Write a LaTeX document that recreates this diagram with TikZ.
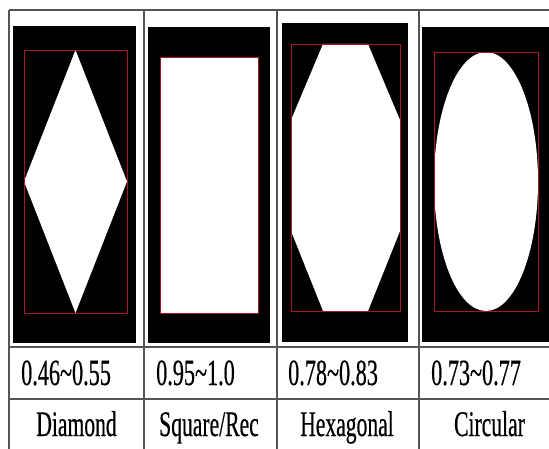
\documentclass[tikz,border=0pt]{standalone}
\usepackage{fontspec}
\newfontfamily\cellfont[FakeStretch=0.6, FakeBold=0.4]{Liberation Serif}
\usetikzlibrary{positioning}
\definecolor{gridgray}{RGB}{85,85,85}
\definecolor{boxred}{RGB}{160,25,35}
\tikzset{
  gridline/.style={draw=gridgray, line width=1.6pt},
  shot/.style={fill=black},
  blob/.style={fill=white},
  bbox/.style={draw=boxred, line width=0.9pt},
  ratiotext/.style={font=\cellfont\fontsize{37}{37}\selectfont,
    inner sep=0pt, anchor=base west},
  nametext/.style={font=\cellfont\fontsize{36}{36}\selectfont,
    inner sep=0pt, anchor=base},
}
\begin{document}
\begin{tikzpicture}[x=1pt, y=-1pt]
  \useasboundingbox (0,0) rectangle (549,449);
  \fill[white] (0,0) rectangle (549,449);

  %% ── Diamond ─────────────────────────────────────────────────
  \fill[shot] (13,26) rectangle (136,343);
  \fill[blob] (75.5,50) -- (127,181.5) -- (75.5,313) -- (24,181.5) -- cycle;
  \draw[bbox] (24,50) rectangle (127,313);

  %% ── Square / rectangle ──────────────────────────────────────
  \fill[shot] (148,27) rectangle (270,343);
  \fill[blob] (160,57) rectangle (258,313);
  \draw[bbox] (160,57) rectangle (258,313);

  %% ── Hexagonal ───────────────────────────────────────────────
  \fill[shot] (282,23) rectangle (408,342);
  \fill[blob] (323,44) -- (368,44) -- (400,120) -- (400,231) -- (368,311)
    -- (323,311) -- (291,231) -- (291,120) -- cycle;
  \draw[bbox] (291,44) rectangle (400,311);

  %% ── Circular ────────────────────────────────────────────────
  \fill[shot] (422,27) rectangle (549,342);
  \fill[blob] (486,181.5) ellipse [x radius=52pt, y radius=129.5pt];
  \draw[bbox] (434,52) rectangle (538,311);

  %% ── Table rules ─────────────────────────────────────────────
  \draw[gridline] (9,10) -- (549,10);
  \draw[gridline] (9,347) -- (549,347);
  \draw[gridline] (9,399) -- (549,399);
  \foreach \xc in {9,144,277,419}
    \draw[gridline] (\xc,10) -- (\xc,449);

  % ratio row
  \node[ratiotext] (rdia) at (21,385) {0.46\textasciitilde0.55};
  \node[ratiotext] (rsqr) at (156,385) {0.95\textasciitilde1.0};
  \node[ratiotext] (rhex) at (288,385) {0.78\textasciitilde0.83};
  \node[ratiotext] (rcir) at (431,385) {0.73\textasciitilde0.77};

  % shape names
  \node[nametext] (ndia) at (76.5,436) {Diamond};
  \node[nametext] (nsqr) at (209,436) {Square/Rec};
  \node[nametext] (nhex) at (347,436) {Hexagonal};
  \node[nametext] (ncir) at (489.5,436) {Circular};
\end{tikzpicture}
\end{document}
